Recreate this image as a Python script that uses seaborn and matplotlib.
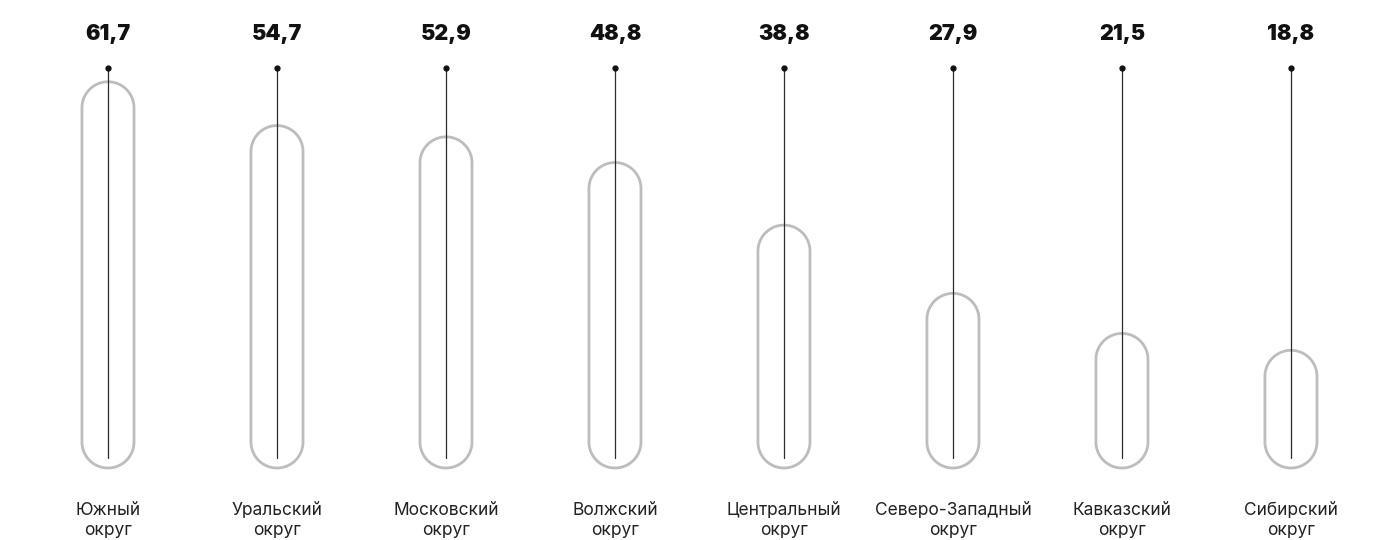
import matplotlib
matplotlib.use('Agg')
import numpy as np
import matplotlib.pyplot as plt
from matplotlib.path import Path
from matplotlib.patches import PathPatch
import seaborn as sns

# Data
regions = ['Южный\nокруг', 'Уральский\nокруг', 'Московский\nокруг', 'Волжский\nокруг',
           'Центральный\nокруг', 'Северо-Западный\nокруг', 'Кавказский\nокруг', 'Сибирский\nокруг']
values = [61.7, 54.7, 52.9, 48.8, 38.8, 27.9, 21.5, 18.8]
value_labels = ['61,7', '54,7', '52,9', '48,8', '38,8', '27,9', '21,5', '18,8']

sns.set_style('white')
plt.rcParams['font.family'] = ['Inter', 'DejaVu Sans']

fig = plt.figure(figsize=(13.79, 5.40), dpi=100)
ax = fig.add_axes([0, 0, 1, 1])

# invisible bars, used for geometry of the pills
sns.barplot(x=list(range(len(values))), y=values, ax=ax, width=0.308,
            color='white', alpha=0)

ax.set_xlim(-0.639, 7.521)
ax.set_ylim(-11.5, 74.76)

# pixels per data unit, to keep round ends circular
aspect = 169 / 6.26


def pill_path(x0, w, h):
    rx = w / 2
    ry = rx * aspect
    cx = x0 + rx
    t_top = np.linspace(0, np.pi, 60)
    t_bot = np.linspace(np.pi, 2 * np.pi, 60)
    top = np.column_stack([cx + rx * np.cos(t_top), h - ry + ry * np.sin(t_top)])
    bot = np.column_stack([cx + rx * np.cos(t_bot), ry + ry * np.sin(t_bot)])
    pts = np.vstack([top, bot, top[:1]])
    codes = [Path.MOVETO] + [Path.LINETO] * (len(pts) - 2) + [Path.CLOSEPOLY]
    return Path(pts, codes)


for p in list(ax.patches):
    x0, w, h = p.get_x(), p.get_width(), p.get_height()
    ax.add_patch(PathPatch(pill_path(x0, w, h), facecolor='none',
                           edgecolor='#bdbdbd', linewidth=2.0))

top = 63.9
for i, lab in enumerate(value_labels):
    ax.plot([i, i], [1.6, top], color='#2b2b2b', linewidth=0.9)
    ax.plot(i, top, 'o', color='#111111', markersize=3.5)
    ax.text(i, 69.3, lab, ha='center', va='center', fontsize=15.5,
            fontweight=900, color='#111111')
    ax.text(i, -8.4, regions[i], ha='center', va='center', fontsize=12.5,
            color='#222222', linespacing=1.25)

ax.axis('off')
fig.savefig('out.png', dpi=100)
